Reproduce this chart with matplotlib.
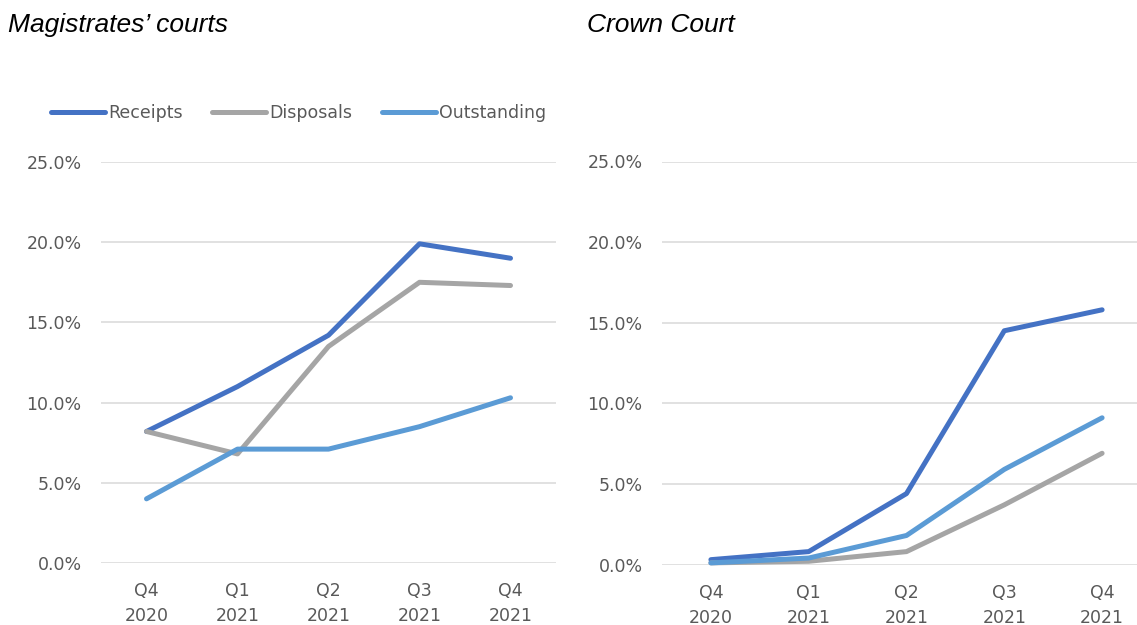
import matplotlib
matplotlib.use("Agg")
import matplotlib.pyplot as plt
from matplotlib.ticker import PercentFormatter

# Quarter labels shared by both panels
quarters = ["Q4\n2020", "Q1\n2021", "Q2\n2021", "Q3\n2021", "Q4\n2021"]

# Magistrates' courts (% change)
mags_receipts = [8.2, 11.0, 14.2, 19.9, 19.0]
mags_disposals = [8.2, 6.8, 13.5, 17.5, 17.3]
mags_outstanding = [4.0, 7.1, 7.1, 8.5, 10.3]

# Crown Court (% change)
crown_receipts = [0.3, 0.8, 4.4, 14.5, 15.8]
crown_disposals = [0.1, 0.2, 0.8, 3.7, 6.9]
crown_outstanding = [0.1, 0.4, 1.8, 5.9, 9.1]

series_names = ["Receipts", "Disposals", "Outstanding"]
colors = ["#4472C4", "#A5A5A5", "#5B9BD5"]
text_grey = "#595959"

plt.rcParams["font.family"] = ["DejaVu Sans"]

fig = plt.figure(figsize=(11.37, 6.25), dpi=100)
ax_left = fig.add_axes([101 / 1137, 62 / 625, 455 / 1137, 401 / 625])
ax_right = fig.add_axes([662 / 1137, 60.5 / 625, 489 / 1137, 403 / 625])


def draw_panel(ax, data):
    x = range(len(quarters))
    lines = []
    for values, name, col in zip(data, series_names, colors):
        (ln,) = ax.plot(x, [v / 100 for v in values], color=col, lw=3.6,
                        solid_capstyle="round", solid_joinstyle="round",
                        label=name, clip_on=False, zorder=3)
        lines.append(ln)
    ax.set_xlim(-0.5, len(quarters) - 0.5)
    ax.set_ylim(0, 0.25)
    ax.set_yticks([0, 0.05, 0.10, 0.15, 0.20, 0.25])
    ax.yaxis.set_major_formatter(PercentFormatter(1.0, decimals=1))
    ax.set_xticks(list(x))
    ax.set_xticklabels(quarters, linespacing=1.5)
    ax.grid(axis="y", color="#D9D9D9", lw=1.1)
    ax.set_axisbelow(True)
    for side in ["top", "right", "left", "bottom"]:
        ax.spines[side].set_visible(False)
    ax.tick_params(axis="both", length=0, labelsize=12.5, labelcolor=text_grey)
    ax.tick_params(axis="y", pad=14)
    ax.tick_params(axis="x", pad=14)
    return lines


handles = draw_panel(ax_left, [mags_receipts, mags_disposals, mags_outstanding])
draw_panel(ax_right, [crown_receipts, crown_disposals, crown_outstanding])

fig.text(8 / 1137, 1 - 25 / 625, "Magistrates\u2019 courts", fontsize=19,
         style="italic", family="Liberation Sans", va="center", ha="left")
fig.text(587 / 1137, 1 - 25 / 625, "Crown Court", fontsize=19,
         style="italic", family="Liberation Sans", va="center", ha="left")

leg = fig.legend(handles=handles, loc="center left",
                 bbox_to_anchor=(44 / 1137, 1 - 113 / 625), ncol=3,
                 frameon=False, fontsize=12.5, handlelength=3.1,
                 handletextpad=0.2, columnspacing=1.7, borderaxespad=0)
for t in leg.get_texts():
    t.set_color(text_grey)

fig.savefig("out.png", dpi=100)
